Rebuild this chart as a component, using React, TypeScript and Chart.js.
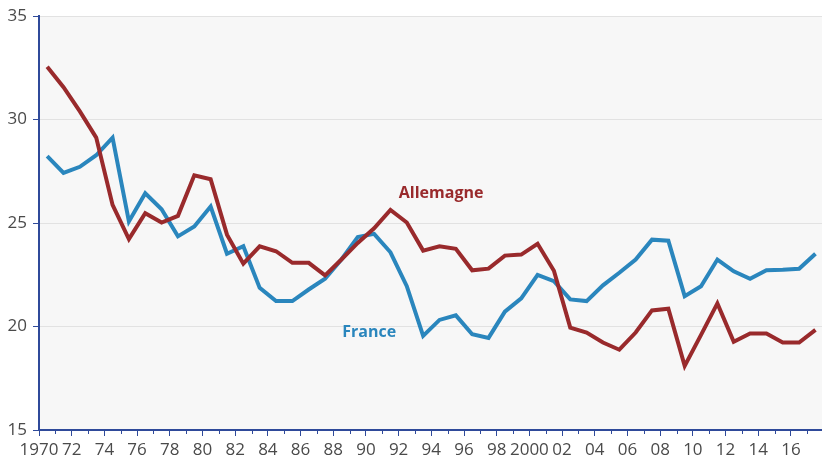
import React, { useEffect, useRef } from 'react';
import { Chart, registerables } from 'chart.js';

Chart.register(...registerables);

const years = [
  1970, 1971, 1972, 1973, 1974, 1975, 1976, 1977, 1978, 1979,
  1980, 1981, 1982, 1983, 1984, 1985, 1986, 1987, 1988, 1989,
  1990, 1991, 1992, 1993, 1994, 1995, 1996, 1997, 1998, 1999,
  2000, 2001, 2002, 2003, 2004, 2005, 2006, 2007, 2008, 2009,
  2010, 2011, 2012, 2013, 2014, 2015, 2016, 2017,
];

const allemagne = [
  32.56, 31.57, 30.4, 29.13, 25.88, 24.23, 25.48, 25.03, 25.35, 27.31,
  27.12, 24.44, 23.04, 23.88, 23.64, 23.08, 23.08, 22.47, 23.24, 24.04,
  24.75, 25.64, 25.03, 23.67, 23.88, 23.76, 22.72, 22.8, 23.43, 23.48,
  24.0, 22.7, 19.95, 19.71, 19.23, 18.88, 19.71, 20.78, 20.86, 18.1,
  19.6, 21.12, 19.26, 19.66, 19.66, 19.23, 19.23, 19.84,
];

const france = [
  28.24, 27.43, 27.72, 28.28, 29.13, 25.08, 26.44, 25.67, 24.36, 24.84,
  25.8, 23.52, 23.88, 21.87, 21.23, 21.23, 21.79, 22.31, 23.24, 24.33,
  24.48, 23.59, 21.95, 19.55, 20.32, 20.54, 19.63, 19.45, 20.72, 21.36,
  22.5, 22.19, 21.31, 21.23, 21.99, 22.6, 23.24, 24.2, 24.15, 21.47,
  21.95, 23.24, 22.67, 22.31, 22.72, 22.74, 22.79, 23.52,
];

const seriesNames = ['Allemagne', 'France'];
const seriesColors = ['#992a2c', '#2a86bd'];
// label anchor positions in data units [year, value]
const labelAnchors = [
  [1994.6, 26.45],
  [1990.2, 19.73],
];

const yMin = 15;
const yMax = 35;
const yStep = 5;
const xMin = 1970;
const xMax = 2017.9;
const lastLabelYear = 2016;

const AXIS_BLUE = '#2f4a9a';
const TEXT = '#4a4a4a';
const FONT = "'Open Sans', 'Noto Sans', sans-serif";

function xLabel(v: number): string {
  if (!Number.isInteger(v) || v % 2 !== 0 || v > lastLabelYear) return '';
  if (v === 1970 || v === 2000) return String(v);
  return String(v % 100).padStart(2, '0');
}

export default function App() {
  const ref = useRef<HTMLCanvasElement | null>(null);

  useEffect(() => {
    if (!ref.current) return;

    const decor = {
      id: 'decor',
      beforeDraw(chart: any) {
        const { ctx, chartArea } = chart;
        ctx.save();
        ctx.fillStyle = '#f7f7f7';
        ctx.fillRect(chartArea.left, chartArea.top, chartArea.right - chartArea.left, chartArea.bottom - chartArea.top);
        ctx.restore();
      },
      afterDraw(chart: any) {
        const { ctx, chartArea, scales } = chart;
        const xs = scales.x;
        const ys = scales.y;
        ctx.save();
        // minor ticks on odd years
        ctx.strokeStyle = AXIS_BLUE;
        ctx.lineWidth = 1;
        for (let yr = xMin + 1; yr < xMax; yr += 2) {
          const px = Math.round(xs.getPixelForValue(yr)) + 0.5;
          ctx.beginPath();
          ctx.moveTo(px, chartArea.bottom);
          ctx.lineTo(px, chartArea.bottom + 4);
          ctx.stroke();
        }
        // series labels
        ctx.font = `bold 16px ${FONT}`;
        ctx.textAlign = 'center';
        ctx.textBaseline = 'middle';
        seriesNames.forEach((name, i) => {
          ctx.fillStyle = seriesColors[i];
          ctx.fillText(name, xs.getPixelForValue(labelAnchors[i][0]), ys.getPixelForValue(labelAnchors[i][1]));
        });
        ctx.restore();
      },
    };

    const chart = new Chart(ref.current, {
      type: 'line',
      data: {
        datasets: [
          {
            label: seriesNames[0],
            data: years.map((yr, i) => ({ x: yr + 0.5, y: allemagne[i] })),
            borderColor: seriesColors[0],
            borderWidth: 4,
            pointRadius: 0,
            tension: 0,
            borderJoinStyle: 'miter',
            fill: false,
          },
          {
            label: seriesNames[1],
            data: years.map((yr, i) => ({ x: yr + 0.5, y: france[i] })),
            borderColor: seriesColors[1],
            borderWidth: 4,
            pointRadius: 0,
            tension: 0,
            borderJoinStyle: 'miter',
            fill: false,
          },
        ],
      },
      options: {
        animation: false,
        responsive: true,
        maintainAspectRatio: false,
        layout: { padding: { top: 15, right: 0, left: 0, bottom: 0 } },
        plugins: {
          legend: { display: false },
          tooltip: { enabled: false },
        },
        scales: {
          x: {
            type: 'linear',
            min: xMin,
            max: xMax,
            afterFit: (s: any) => { s.height = 33; s.paddingRight = 0; s.paddingLeft = 0; },
            ticks: {
              stepSize: 1,
              autoSkip: false,
              maxRotation: 0,
              padding: 4,
              color: TEXT,
              font: { family: FONT, size: 17 },
              callback: (v: any) => xLabel(Number(v)),
            },
            grid: {
              drawOnChartArea: false,
              drawTicks: true,
              tickLength: 6,
              tickColor: (c: any) => {
                const v = c.tick ? c.tick.value : 0;
                return Number.isInteger(v) && v % 2 === 0 ? AXIS_BLUE : 'rgba(0,0,0,0)';
              },
            },
            border: { color: AXIS_BLUE, width: 2 },
          },
          y: {
            min: yMin,
            max: yMax,
            afterFit: (s: any) => { s.width = 39; },
            ticks: {
              stepSize: yStep,
              padding: 6,
              color: TEXT,
              font: { family: FONT, size: 17 },
            },
            grid: {
              color: '#e2e2e2',
              lineWidth: 1,
              tickLength: 6,
              tickColor: AXIS_BLUE,
            },
            border: { color: AXIS_BLUE, width: 2 },
          },
        },
      },
      plugins: [decor],
    });

    return () => chart.destroy();
  }, []);

  return (
    <div style={{ position: 'fixed', left: 0, top: 0, width: 822, height: 463, background: '#fff' }}>
      <canvas ref={ref} />
    </div>
  );
}
